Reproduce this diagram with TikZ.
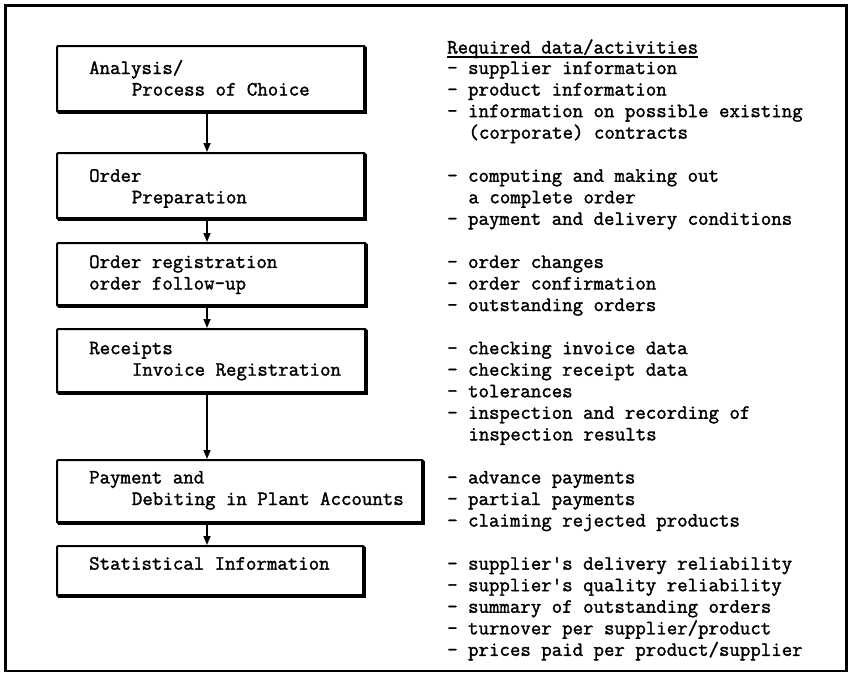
\documentclass[tikz,border=0pt]{standalone}
\usepackage{fontspec}
\newfontfamily\typewriter{Latin Modern Mono}[FakeBold=1.6]
\usetikzlibrary{arrows.meta}
\begin{document}
\begin{tikzpicture}[x=1pt,y=-1pt,
  every node/.style={font=\typewriter\fontsize{20.3}{21.55}\selectfont,
    inner sep=0pt, anchor=base west},
  stepbox/.style={draw, line width=2pt, rectangle, anchor=north west,
    inner sep=0pt, rounded corners=1pt},
  boxshade/.style={line width=4.2pt, line join=miter},
  flow/.style={line width=1.6pt, -{Triangle[length=9pt,width=7pt]}},
  frame/.style={line width=2.4pt},
  hdrline/.style={line width=1.3pt}
]
\useasboundingbox (0,0) rectangle (851,673);
\draw[frame] (5.5,5.5) rectangle (846.5,671);

% process boxes (top-left corner, size)
\node[stepbox, minimum width=308pt, minimum height=66pt] (b1) at (56,45) {};
\node[stepbox, minimum width=308pt, minimum height=66pt] (b2) at (56,152) {};
\node[stepbox, minimum width=309pt, minimum height=63pt] (b3) at (56,242) {};
\node[stepbox, minimum width=309pt, minimum height=64pt] (b4) at (56,328) {};
\node[stepbox, minimum width=366pt, minimum height=63pt] (b5) at (56,459) {};
\node[stepbox, minimum width=307pt, minimum height=50pt] (b6) at (56,545) {};

% heavier bottom and right edges
\foreach \b in {b1,b2,b3,b4,b5,b6}
  \draw[boxshade] ([xshift=2pt,yshift=1pt]\b.south west) -- ([xshift=-1pt,yshift=1pt]\b.south east)
                  -- ([xshift=-1pt,yshift=-2pt]\b.north east);

% box labels, on the common typewriter line grid
\def\ln#1{{74+(#1-1)*21.55}}
\node (t1a) at (89,\ln{1}) {Analysis/};
\node (t1b) at (131.7,\ln{2}) {Process of Choice};
\node (t2a) at (89,\ln{6}) {Order};
\node (t2b) at (131.7,\ln{7}) {Preparation};
\node (t3a) at (89,\ln{10}) {Order registration};
\node (t3b) at (89,\ln{11}) {order follow-up};
\node (t4a) at (89,\ln{14}) {Receipts};
\node (t4b) at (131.7,\ln{15}) {Invoice Registration};
\node (t5a) at (89,\ln{20}) {Payment and};
\node (t5b) at (131.7,\ln{21}) {Debiting in Plant Accounts};
\node (t6a) at (89,\ln{24}) {Statistical Information};

% connectors
\coordinate (ax) at (207,0);
\draw[flow] (b1.south -| ax) -- (b2.north -| ax);
\draw[flow] (b2.south -| ax) -- (b3.north -| ax);
\draw[flow] (b3.south -| ax) -- (b4.north -| ax);
\draw[flow] (b4.south -| ax) -- (b5.north -| ax);
\draw[flow] (b5.south -| ax) -- (b6.north -| ax);

% right column
\node (hdr) at (447,53.5) {Required data/activities};
\draw[hdrline] ([yshift=-3.5pt]hdr.base west) -- ([yshift=-3.5pt]hdr.base east);
\foreach \n/\x/\t in {
  1/447/{- supplier information},
  2/447/{- product information},
  3/447/{- information on possible existing},
  4/468.3/{(corporate) contracts},
  6/447/{- computing and making out},
  7/468.3/{a complete order},
  8/447/{- payment and delivery conditions},
  10/447/{- order changes},
  11/447/{- order confirmation},
  12/447/{- outstanding orders},
  14/447/{- checking invoice data},
  15/447/{- checking receipt data},
  16/447/{- tolerances},
  17/447/{- inspection and recording of},
  18/468.3/{inspection results},
  20/447/{- advance payments},
  21/447/{- partial payments},
  22/447/{- claiming rejected products},
  24/447/{- supplier's delivery reliability},
  25/447/{- supplier's quality reliability},
  26/447/{- summary of outstanding orders},
  27/447/{- turnover per supplier/product},
  28/447/{- prices paid per product/supplier}}
  \node (r\n) at (\x,\ln{\n}) {\t};
\end{tikzpicture}
\end{document}
